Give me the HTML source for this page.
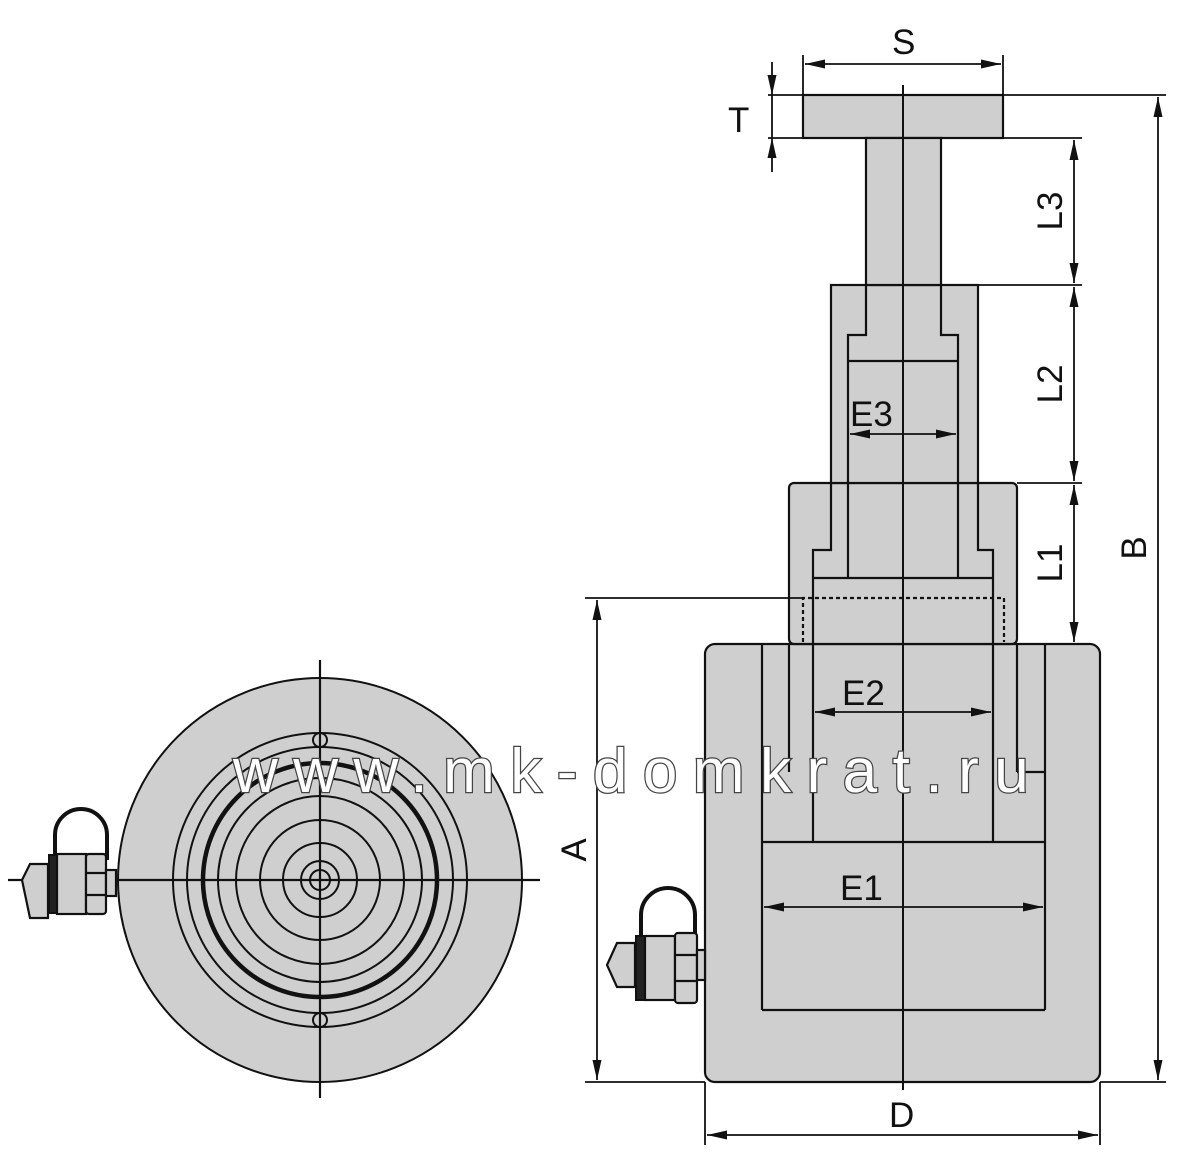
<!DOCTYPE html>
<html><head><meta charset="utf-8"><style>
html,body{margin:0;padding:0;background:#fff}
svg{display:block}
text{font-family:"Liberation Sans",sans-serif;fill:#111}
</style></head><body>
<svg width="1200" height="1166" viewBox="0 0 1200 1166" xmlns="http://www.w3.org/2000/svg">
<defs>
<marker id="ar" viewBox="0 0 20 10" refX="20" refY="5" markerWidth="20" markerHeight="10" markerUnits="userSpaceOnUse" orient="auto-start-reverse">
<path d="M0,0.5 L20,5 L0,9.5 Z" fill="#111"/></marker>
</defs>
<g stroke="#111" stroke-width="2.2" fill="#cfcfcf">
<!-- TOP VIEW -->
<circle cx="320" cy="880" r="202" stroke-width="2"/>
<g fill="none" stroke-width="2">
<circle cx="320" cy="880" r="147"/>
<circle cx="320" cy="880" r="133"/>
<circle cx="320" cy="880" r="117" stroke-width="4.5"/>
<circle cx="320" cy="880" r="102"/>
<circle cx="320" cy="880" r="84"/>
<circle cx="320" cy="880" r="60"/>
<circle cx="320" cy="880" r="37"/>
<circle cx="320" cy="880" r="19"/>
<circle cx="320" cy="880" r="10"/>
<circle cx="320" cy="740" r="7"/>
<circle cx="320" cy="1020" r="7"/>
</g>
<line x1="320" y1="660" x2="320" y2="1098"/>
<line x1="8" y1="880" x2="540" y2="880"/>
<!-- fitting top view -->
<path d="M55,860 V835 A26,26 0 0 1 107,835 V860" fill="none" stroke-width="4"/>
<path d="M22,880 L30,864 H48 V918 H30 Z"/>
<rect x="49" y="855" width="8" height="58" fill="#222" stroke-width="2"/>
<rect x="57" y="854" width="29" height="60"/>
<rect x="86" y="854" width="20" height="60" rx="3"/>
<line x1="86" y1="873" x2="106" y2="873"/><line x1="86" y1="895" x2="106" y2="895"/>
<rect x="106" y="870" width="10" height="26"/>

<!-- SIDE VIEW -->
<rect x="705" y="644" width="395" height="438" rx="10"/>
<rect x="789" y="483" width="228" height="161" rx="5"/>
<rect x="831" y="285" width="147" height="198"/>
<rect x="803" y="95" width="200" height="43"/>
<rect x="866" y="138" width="75" height="147"/>
<g fill="none">
<line x1="762" y1="644" x2="762" y2="1010"/>
<line x1="1045" y1="644" x2="1045" y2="1010"/>
<line x1="762" y1="1010" x2="1045" y2="1010"/>
<line x1="762" y1="842" x2="1045" y2="842"/>
<line x1="789" y1="644" x2="789" y2="772"/>
<line x1="1017" y1="644" x2="1017" y2="772"/>
<line x1="1017" y1="772" x2="1045" y2="772"/>
<path d="M831,483 V550 H813 V842"/>
<path d="M978,483 V550 H993 V842"/>
<line x1="813" y1="578" x2="993" y2="578"/>
<path d="M866,285 V335 H848 V578"/>
<path d="M941,285 V335 H958 V578"/>
<line x1="848" y1="361" x2="958" y2="361"/>
<path d="M803,642 V598 H1004 V642" stroke-dasharray="4,3"/>
</g>
<!-- fitting side -->
<path d="M641,940 V915 A27,27 0 0 1 695,915 V940" fill="none" stroke-width="4"/>
<path d="M607,965 L617,943 H635 V987 H617 Z"/>
<rect x="636" y="936" width="9" height="64" fill="#222" stroke-width="2"/>
<rect x="645" y="936" width="30" height="64"/>
<rect x="675" y="933" width="22" height="70" rx="3"/>
<line x1="675" y1="955" x2="697" y2="955"/><line x1="675" y1="981" x2="697" y2="981"/>
<rect x="697" y="950" width="8" height="30"/>
</g>
<!-- center line -->
<line x1="903" y1="85" x2="903" y2="1090" stroke="#111" stroke-width="2"/>

<!-- dimensions -->
<g stroke="#111" stroke-width="1.8" fill="none">
<line x1="803" y1="55" x2="803" y2="95"/><line x1="1003" y1="55" x2="1003" y2="95"/>
<line x1="805" y1="64" x2="1001" y2="64" marker-start="url(#ar)" marker-end="url(#ar)"/>
<line x1="768" y1="95" x2="1166" y2="95"/>
<line x1="768" y1="138" x2="866" y2="138"/>
<line x1="772" y1="62" x2="772" y2="95" marker-end="url(#ar)"/>
<line x1="772" y1="172" x2="772" y2="138" marker-end="url(#ar)"/>
<line x1="772" y1="95" x2="772" y2="138"/>
<line x1="941" y1="138" x2="1082" y2="138"/>
<line x1="978" y1="285" x2="1082" y2="285"/>
<line x1="1017" y1="483" x2="1082" y2="483"/>
<line x1="1074" y1="140" x2="1074" y2="283" marker-start="url(#ar)" marker-end="url(#ar)"/>
<line x1="1074" y1="287" x2="1074" y2="481" marker-start="url(#ar)" marker-end="url(#ar)"/>
<line x1="1074" y1="485" x2="1074" y2="642" marker-start="url(#ar)" marker-end="url(#ar)"/>
<line x1="1100" y1="1082" x2="1166" y2="1082"/>
<line x1="1158" y1="97" x2="1158" y2="1080" marker-start="url(#ar)" marker-end="url(#ar)"/>
<line x1="585" y1="598" x2="803" y2="598"/>
<line x1="585" y1="1082" x2="705" y2="1082"/>
<line x1="597" y1="600" x2="597" y2="1080" marker-start="url(#ar)" marker-end="url(#ar)"/>
<line x1="705" y1="1082" x2="705" y2="1145"/><line x1="1100" y1="1082" x2="1100" y2="1145"/>
<line x1="707" y1="1135" x2="1098" y2="1135" marker-start="url(#ar)" marker-end="url(#ar)"/>
<line x1="850" y1="434" x2="956" y2="434" marker-start="url(#ar)" marker-end="url(#ar)"/>
<line x1="815" y1="712" x2="991" y2="712" marker-start="url(#ar)" marker-end="url(#ar)"/>
<line x1="764" y1="907" x2="1043" y2="907" marker-start="url(#ar)" marker-end="url(#ar)"/>
</g>
<g font-size="35">
<text x="892" y="54">S</text>
<text x="728" y="132">T</text>
<text x="889" y="1127">D</text>
<text x="850" y="426">E3</text>
<text x="842" y="705">E2</text>
<text x="840" y="900">E1</text>
<text transform="translate(1062,211) rotate(-90)" text-anchor="middle">L3</text>
<text transform="translate(1062,384) rotate(-90)" text-anchor="middle">L2</text>
<text transform="translate(1062,563) rotate(-90)" text-anchor="middle">L1</text>
<text transform="translate(1146,548) rotate(-90)" text-anchor="middle">B</text>
<text transform="translate(586,850) rotate(-90)" text-anchor="middle">A</text>
</g>
<!-- watermark -->
<text x="233" y="792" font-size="62" letter-spacing="15.5" style="fill:#fff;stroke:#444;stroke-width:2.5;paint-order:stroke">www.mk-domkrat.ru</text>
</svg>
</body></html>
